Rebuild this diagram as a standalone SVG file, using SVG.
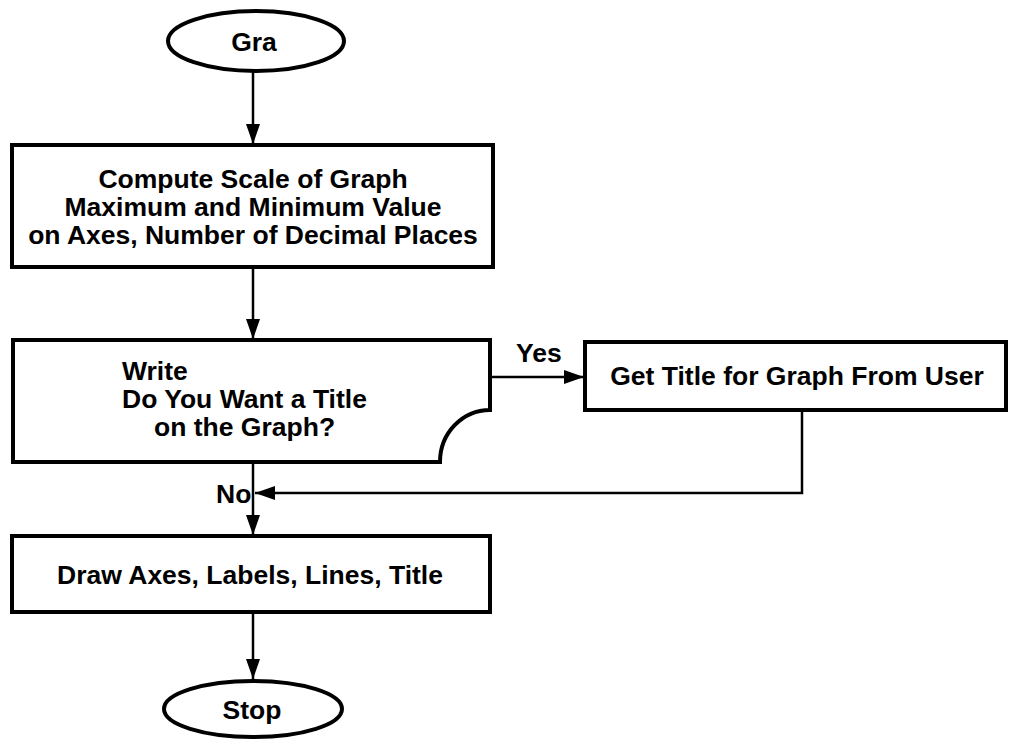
<svg xmlns="http://www.w3.org/2000/svg" width="1010" height="740" viewBox="0 0 1010 740">
  <style>
    .shape { fill: #fff; stroke: #000; stroke-width: 4; }
    .wire { fill: none; stroke: #000; stroke-width: 2.5; }
    text { font-family: "Liberation Sans", Arial, sans-serif; font-weight: bold; font-size: 26.5px; fill: #000; }
    .c { text-anchor: middle; }
  </style>
  <defs>
    <marker id="arrowBig" viewBox="0 0 20 14" refX="20" refY="7" markerWidth="20" markerHeight="14" markerUnits="userSpaceOnUse" orient="auto">
      <path d="M0,0 L20,7 L0,14 z" fill="#000"/>
    </marker>
  </defs>
  <rect width="1010" height="740" fill="#fff"/>

  <g id="connectors">
    <line class="wire" x1="253" y1="72" x2="253" y2="144" marker-end="url(#arrowBig)"/>
    <line class="wire" x1="253" y1="268" x2="253" y2="339" marker-end="url(#arrowBig)"/>
    <line class="wire" x1="490" y1="377" x2="584" y2="377" marker-end="url(#arrowBig)"/>
    <polyline class="wire" points="802,410 802,493 255,493" marker-end="url(#arrowBig)"/>
    <line class="wire" x1="253" y1="462" x2="253" y2="535" marker-end="url(#arrowBig)"/>
    <line class="wire" x1="253" y1="612" x2="253" y2="679" marker-end="url(#arrowBig)"/>
    <text x="516" y="362">Yes</text>
    <text x="216" y="503">No</text>
  </g>

  <g id="start">
    <ellipse class="shape" cx="256" cy="41" rx="88" ry="30"/>
    <text class="c" x="254" y="51">Gra</text>
  </g>

  <g id="compute-scale">
    <rect class="shape" x="12" y="145" width="481" height="122"/>
    <text class="c" x="253" y="188">Compute Scale of Graph</text>
    <text class="c" x="253" y="216">Maximum and Minimum Value</text>
    <text class="c" x="253" y="244">on Axes, Number of Decimal Places</text>
  </g>

  <g id="ask-title">
    <path class="shape" d="M13,340 H490 V410 A50,52 0 0 0 440,462 H13 Z"/>
    <text x="122" y="380">Write</text>
    <text x="122" y="408">Do You Want a Title</text>
    <text x="154" y="436">on the Graph?</text>
  </g>

  <g id="get-title">
    <rect class="shape" x="585" y="342" width="421" height="68"/>
    <text class="c" x="797" y="385">Get Title for Graph From User</text>
  </g>

  <g id="draw-axes">
    <rect class="shape" x="12" y="536" width="478" height="76"/>
    <text class="c" x="250" y="584">Draw Axes, Labels, Lines, Title</text>
  </g>

  <g id="stop">
    <ellipse class="shape" cx="253" cy="709" rx="89" ry="28"/>
    <text class="c" x="252" y="719">Stop</text>
  </g>
</svg>
